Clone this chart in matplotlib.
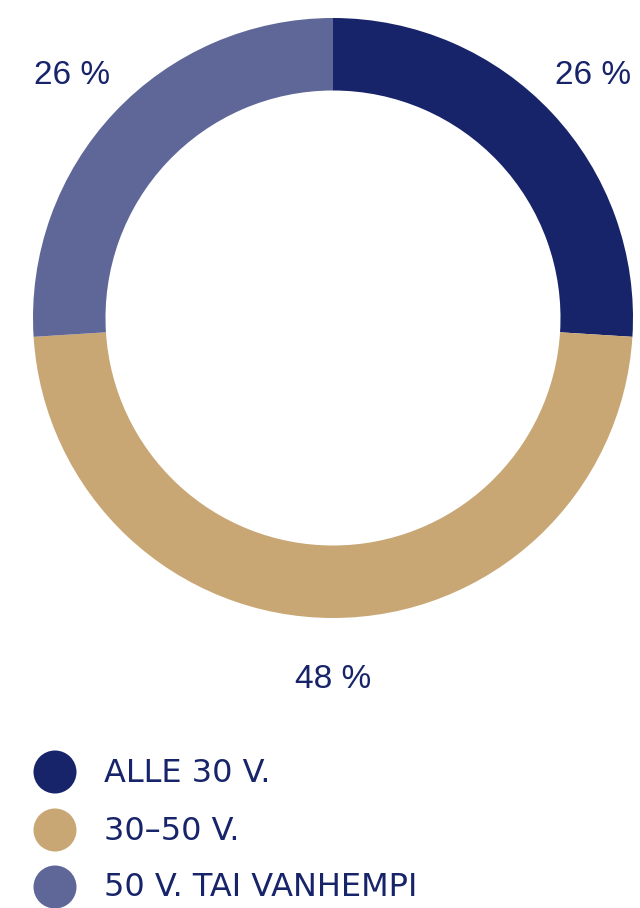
import matplotlib
matplotlib.use("Agg")
import matplotlib.pyplot as plt
from matplotlib.patches import Circle

categories = ["ALLE 30 V.", "30–50 V.", "50 V. TAI VANHEMPI"]
values = [26, 48, 26]
labels = ["26 %", "48 %", "26 %"]
colors = ["#17246a", "#c9a775", "#5e6797"]
text_color = "#17246a"

W, H = 640, 908
fig = plt.figure(figsize=(W / 100, H / 100), dpi=100)

# overlay axes in pixel coordinates
ov = fig.add_axes([0, 0, 1, 1])
ov.set_xlim(0, W)
ov.set_ylim(H, 0)
ov.axis("off")

# donut axes
cx, cy, R = 333, 318, 300
ax = fig.add_axes([(cx - R) / W, (H - cy - R) / H, 2 * R / W, 2 * R / H])
ax.pie(values, colors=colors, startangle=90, counterclock=False,
       wedgeprops=dict(width=72.5 / 300, linewidth=0), radius=1)
ax.set_xlim(-1, 1)
ax.set_ylim(-1, 1)
ax.set_aspect("equal")
ax.axis("off")

# value labels
label_pos = [(593, 75), (333, 680), (72, 75)]
for (x, y), t in zip(label_pos, labels):
    ov.text(x, y, t, ha="center", va="center", fontsize=24,
            family="Liberation Sans", color=text_color)

# legend
leg_y = [772, 830, 887]
for y, c, name in zip(leg_y, colors, categories):
    ov.add_patch(Circle((55, y), 21.5, color=c, linewidth=0))
    ov.text(104, y + 1, name, ha="left", va="center", fontsize=23,
            family="DejaVu Sans", color=text_color)

fig.savefig("out.png", dpi=100)
